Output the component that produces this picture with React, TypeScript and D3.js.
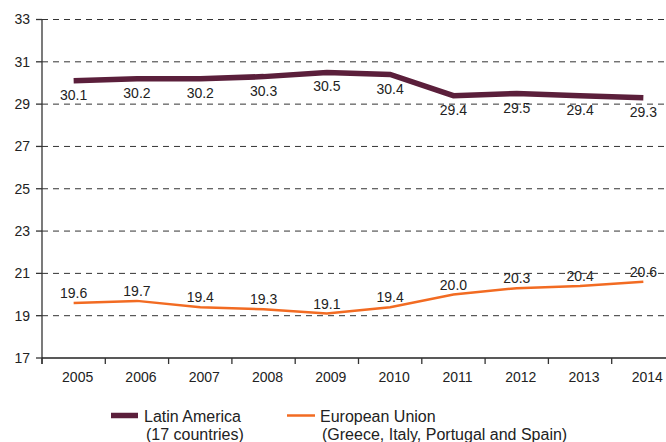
import React from "react";
import * as d3 from "d3";

const years = ["2005", "2006", "2007", "2008", "2009", "2010", "2011", "2012", "2013", "2014"];
const latinAmerica = [30.1, 30.2, 30.2, 30.3, 30.5, 30.4, 29.4, 29.5, 29.4, 29.3];
const europeanUnion = [19.6, 19.7, 19.4, 19.3, 19.1, 19.4, 20.0, 20.3, 20.4, 20.6];
const yTicks = [17, 19, 21, 23, 25, 27, 29, 31, 33];

const W = 666;
const H = 442;
const LA_COLOR = "#5b1f3b";
const EU_COLOR = "#f26b22";
const FONT = "Liberation Sans, Arial, sans-serif";

export default function App() {
  const left = 42;
  const x = d3.scaleBand<string>().domain(years).range([left, 675]);
  const y = d3.scaleLinear().domain([17, 33]).range([358, 19.5]);
  const cx = (d: string) => (x(d) as number) + x.bandwidth() / 2;

  const line = d3
    .line<number>()
    .x((_, i) => cx(years[i]))
    .y((v) => y(v));

  const boundaries = years.map((d) => x(d) as number).concat([675]);

  return (
    <svg width={W} height={H} style={{ position: "absolute", left: 0, top: 0, background: "#fff" }} fontFamily={FONT}>
      {/* grid lines */}
      {yTicks.filter((t) => t !== 17).map((t) => (
        <line key={"g" + t} x1={left} x2={W} y1={y(t)} y2={y(t)} stroke="#333" strokeWidth={1} strokeDasharray="6,5" />
      ))}
      {/* y axis */}
      <line x1={left} x2={left} y1={y(33)} y2={364} stroke="#333" strokeWidth={1.3} />
      {yTicks.map((t) => (
        <g key={"yt" + t}>
          <line x1={36} x2={left} y1={y(t)} y2={y(t)} stroke="#333" strokeWidth={1.3} />
          <text x={30} y={y(t)} dy="0.35em" textAnchor="end" fontSize={14} fill="#222">
            {t}
          </text>
        </g>
      ))}
      {/* x axis */}
      <line x1={left} x2={W} y1={y(17)} y2={y(17)} stroke="#222" strokeWidth={1.5} />
      {boundaries.map((b, i) => (
        <line key={"xt" + i} x1={b} x2={b} y1={y(17)} y2={364} stroke="#333" strokeWidth={1.3} />
      ))}
      {years.map((d) => (
        <text key={"xl" + d} x={cx(d) + 4} y={382} textAnchor="middle" fontSize={14} fill="#222">
          {d}
        </text>
      ))}
      {/* lines */}
      <path d={line(latinAmerica) || ""} fill="none" stroke={LA_COLOR} strokeWidth={5.5} />
      <path d={line(europeanUnion) || ""} fill="none" stroke={EU_COLOR} strokeWidth={2.5} />
      {/* data labels */}
      {latinAmerica.map((v, i) => (
        <text key={"la" + i} x={cx(years[i])} y={y(v) + 19} textAnchor="middle" fontSize={14} fill="#222">
          {v.toFixed(1)}
        </text>
      ))}
      {europeanUnion.map((v, i) => (
        <text key={"eu" + i} x={cx(years[i])} y={y(v) - 5} textAnchor="middle" fontSize={14} fill="#222">
          {v.toFixed(1)}
        </text>
      ))}
      {/* legend */}
      <line x1={111} x2={138} y1={415.5} y2={415.5} stroke={LA_COLOR} strokeWidth={5.5} />
      <text x={144} y={421.5} fontSize={16} fill="#222">Latin America</text>
      <text x={146} y={440} fontSize={16} fill="#222">(17 countries)</text>
      <line x1={287} x2={315} y1={415.5} y2={415.5} stroke={EU_COLOR} strokeWidth={2.5} />
      <text x={320} y={421.5} fontSize={16} fill="#222">European Union</text>
      <text x={322} y={440} fontSize={16} fill="#222">(Greece, Italy, Portugal and Spain)</text>
    </svg>
  );
}
